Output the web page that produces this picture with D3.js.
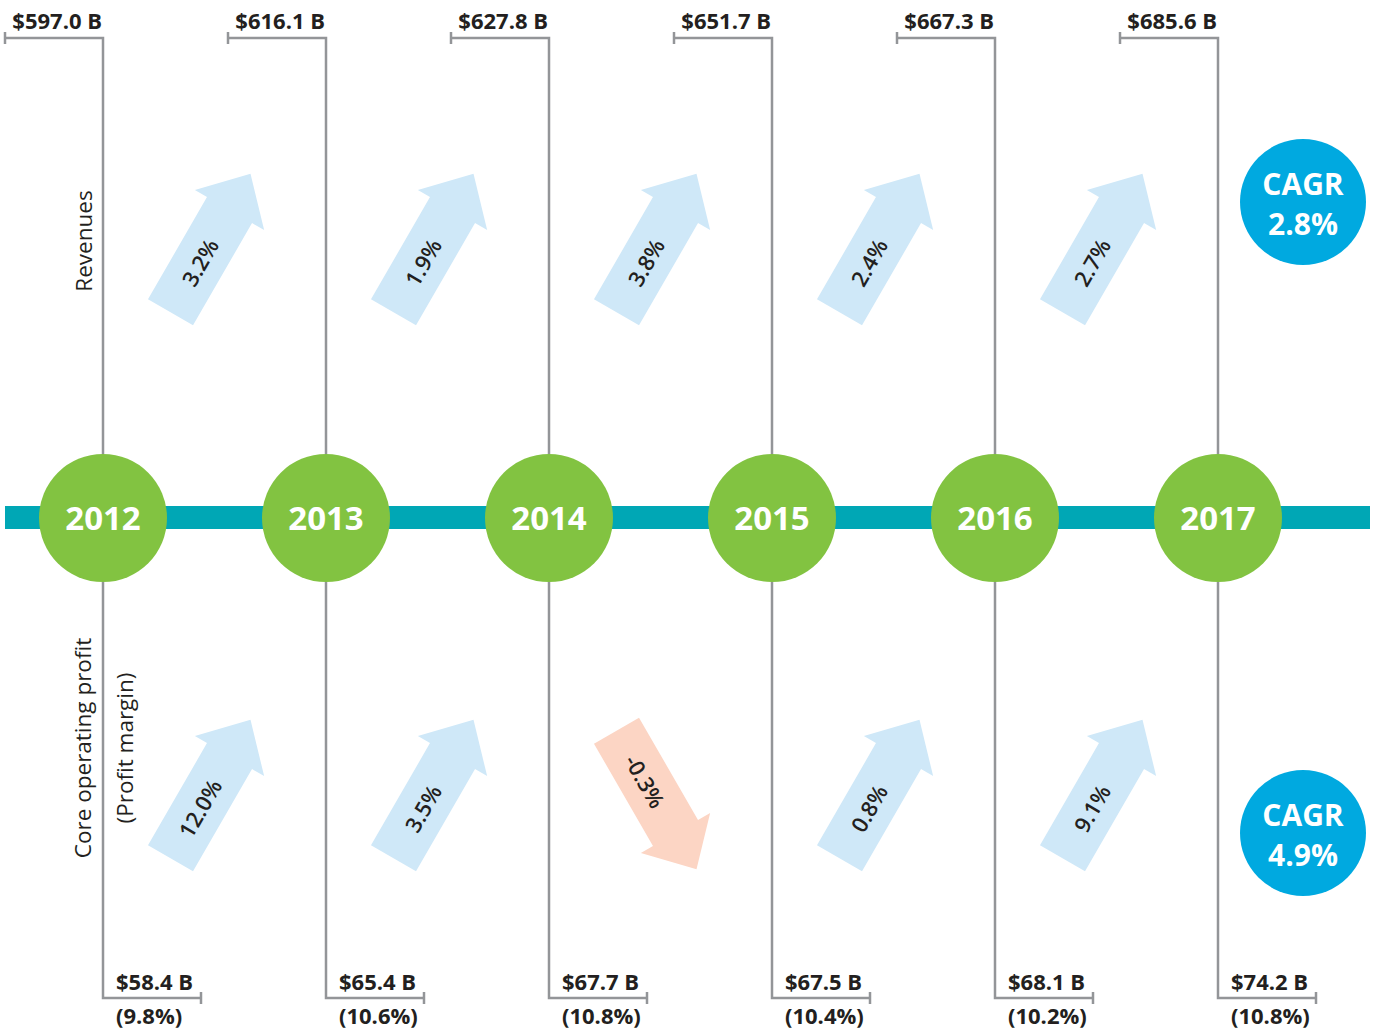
<!DOCTYPE html>
<html>
<head>
    <meta charset="utf-8" />
    <title>Revenues and core operating profit 2012-2017</title>
    <script src="https://cdn.jsdelivr.net/npm/d3@7/dist/d3.min.js"></script>
    <style>
        body { margin: 0; background: #fff; }
        text { font-family: "Open Sans", "Noto Sans", sans-serif; }
    </style>
</head>
<body>
    <div id="chart_container"></div>

    <script type="text/javascript">
        // data
        var years = [2012, 2013, 2014, 2015, 2016, 2017];
        var revenues = [597.0, 616.1, 627.8, 651.7, 667.3, 685.6];
        var revenueGrowth = [3.2, 1.9, 3.8, 2.4, 2.7];
        var profits = [58.4, 65.4, 67.7, 67.5, 68.1, 74.2];
        var margins = [9.8, 10.6, 10.8, 10.4, 10.2, 10.8];
        var profitGrowth = [12.0, 3.5, -0.3, 0.8, 9.1];
        var cagrLabels = ["Revenues", "Core operating profit"];
        var cagrValues = [2.8, 4.9];

        var W = 1375, H = 1030;
        var grey = "#939598", ink = "#231f20";

        // plain hyphen for negatives, like the original
        var f1 = function (v) { return d3.format(".1f")(v).replace("\u2212", "-"); };

        var svg = d3.select("#chart_container").append("svg")
            .attr("width", W)
            .attr("height", H);

        // x position of each year on the timeline
        var x = d3.scalePoint().domain(years).range([103, 1218]);
        var midY = 518, r = 64;

        // row centres: revenues above the band, profit below
        var rowY = d3.scaleOrdinal().domain(["rev", "prof"]).range([243, 789]);

        // brackets + vertical lines
        var brackets = svg.append("g");
        years.forEach(function (yr, i) {
            var cx = x(yr);
            // revenue bracket (top)
            brackets.append("path")
                .attr("d", "M" + cx + "," + (midY - r) + "V38H" + (cx - 98))
                .attr("fill", "none").attr("stroke", grey).attr("stroke-width", 2.5);
            brackets.append("line")
                .attr("x1", cx - 98).attr("x2", cx - 98).attr("y1", 32).attr("y2", 44)
                .attr("stroke", grey).attr("stroke-width", 2.5);
            brackets.append("text")
                .attr("x", cx - 1).attr("y", 29)
                .attr("text-anchor", "end")
                .attr("font-size", 22).attr("font-weight", 700).attr("fill", ink)
                .text("$" + f1(revenues[i]) + " B");

            // profit bracket (bottom)
            brackets.append("path")
                .attr("d", "M" + cx + "," + (midY + r) + "V998H" + (cx + 98))
                .attr("fill", "none").attr("stroke", grey).attr("stroke-width", 2.5);
            brackets.append("line")
                .attr("x1", cx + 98).attr("x2", cx + 98).attr("y1", 992).attr("y2", 1004)
                .attr("stroke", grey).attr("stroke-width", 2.5);
            brackets.append("text")
                .attr("x", cx + 13).attr("y", 990)
                .attr("font-size", 22).attr("font-weight", 700).attr("fill", ink)
                .text("$" + f1(profits[i]) + " B");
            brackets.append("text")
                .attr("x", cx + 13).attr("y", 1024)
                .attr("font-size", 22).attr("font-weight", 700).attr("fill", ink)
                .text("(" + f1(margins[i]) + "%)");
        });

        // timeline band
        svg.append("rect")
            .attr("x", 5).attr("y", midY - 12)
            .attr("width", 1365).attr("height", 23)
            .attr("fill", "#00a7b5");

        // year circles
        var yearG = svg.selectAll(".year").data(years).enter().append("g")
            .attr("transform", function (d) { return "translate(" + x(d) + "," + midY + ")"; });
        yearG.append("circle").attr("r", r).attr("fill", "#82c341");
        yearG.append("text")
            .attr("y", 12)
            .attr("text-anchor", "middle")
            .attr("font-size", 33).attr("font-weight", 700).attr("fill", "#fff")
            .text(function (d) { return d; });

        // arrow shape pointing up, centred on origin
        var L = 80, sw = 26, hw = 40, hl = 42;
        var arrowPath = "M" + (-sw) + "," + L +
            "L" + (-sw) + "," + (-L + hl) +
            "L" + (-hw) + "," + (-L + hl) +
            "L0," + (-L) +
            "L" + hw + "," + (-L + hl) +
            "L" + sw + "," + (-L + hl) +
            "L" + sw + "," + L + "Z";

        function drawArrows(values, row) {
            var g = svg.selectAll(".arrow-" + row).data(values).enter().append("g")
                .attr("transform", function (d, i) {
                    var cx = (x(years[i]) + x(years[i + 1])) / 2 - 4;
                    var cy = rowY(row) + (d >= 0 ? 0 : 11);  // flipped arrow sits in same box
                    var ang = d >= 0 ? 30 : 150;
                    return "translate(" + cx + "," + cy + ") rotate(" + ang + ")";
                });
            g.append("path")
                .attr("d", arrowPath)
                .attr("fill", function (d) { return d >= 0 ? "#cfe8f8" : "#fcd5c4"; });
            g.append("text")
                .attr("transform", "translate(0,22) rotate(-90)")
                .attr("text-anchor", "middle")
                .attr("dominant-baseline", "central")
                .attr("font-size", 22).attr("font-weight", 600).attr("fill", ink)
                .text(function (d) { return f1(d) + "%"; });
        }
        drawArrows(revenueGrowth, "rev");
        drawArrows(profitGrowth, "prof");

        // row titles
        svg.append("text")
            .attr("transform", "translate(92,241) rotate(-90)")
            .attr("text-anchor", "middle")
            .attr("font-size", 22.5).attr("fill", ink)
            .text(cagrLabels[0]);
        svg.append("text")
            .attr("transform", "translate(91,748) rotate(-90)")
            .attr("text-anchor", "middle")
            .attr("font-size", 22.5).attr("fill", ink)
            .text(cagrLabels[1]);
        svg.append("text")
            .attr("transform", "translate(133,748) rotate(-90)")
            .attr("text-anchor", "middle")
            .attr("font-size", 22.5).attr("fill", ink)
            .text("(Profit margin)");

        // CAGR badges
        var badgeY = [202, 833];
        var badge = svg.selectAll(".cagr").data(cagrValues).enter().append("g")
            .attr("transform", function (d, i) { return "translate(1303," + badgeY[i] + ")"; });
        badge.append("circle").attr("r", 63).attr("fill", "#00a9e0");
        badge.append("text")
            .attr("y", -7)
            .attr("text-anchor", "middle")
            .attr("font-size", 30).attr("font-weight", 700).attr("fill", "#fff")
            .text("CAGR");
        badge.append("text")
            .attr("y", 33)
            .attr("text-anchor", "middle")
            .attr("font-size", 30).attr("font-weight", 700).attr("fill", "#fff")
            .text(function (d) { return f1(d) + "%"; });
    </script>
</body>
</html>
